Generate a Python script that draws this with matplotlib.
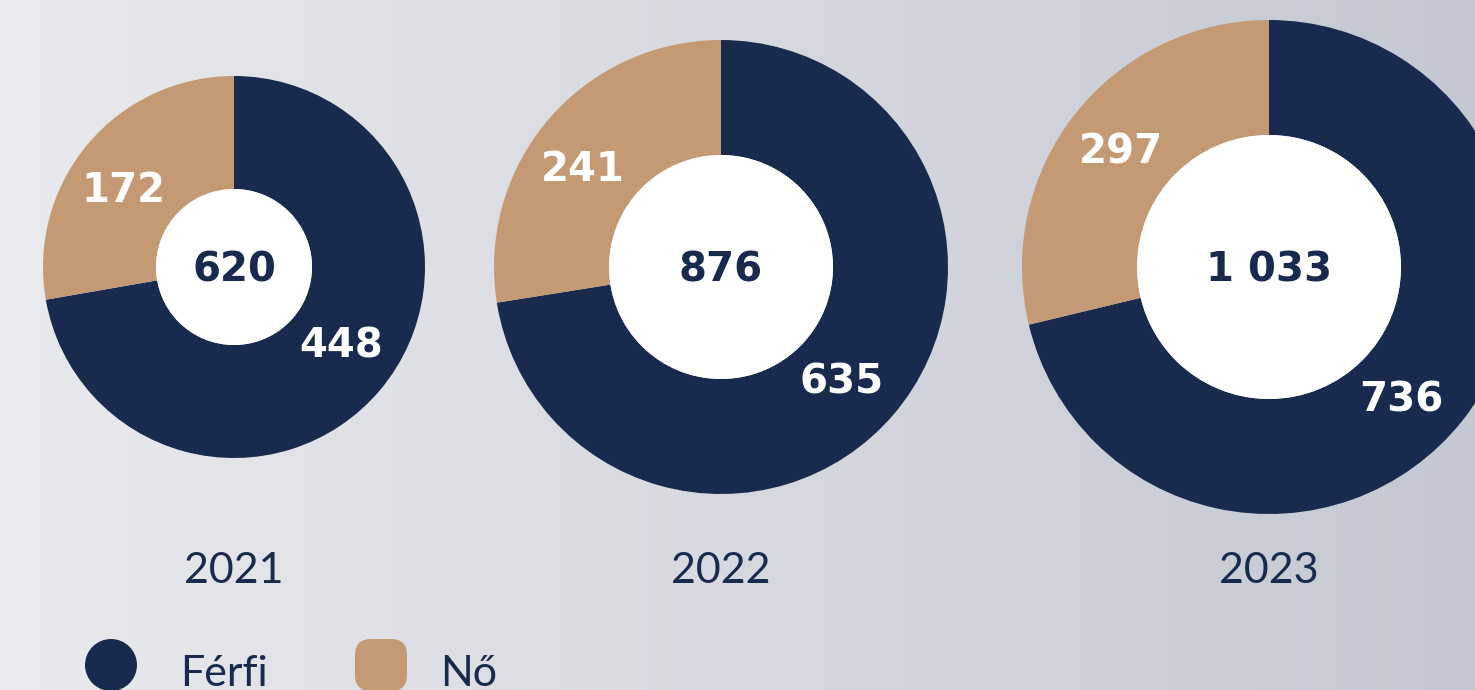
import matplotlib.pyplot as plt
import numpy as np
from matplotlib.patches import Circle, FancyBboxPatch

years = ['2021', '2022', '2023']
ferfi = [448, 635, 736]
no = [172, 241, 297]
totals = ['620', '876', '1 033']

navy = '#182a4e'
tan = '#c49a74'

W, H = 1475, 690
# layout in pixel coords (y measured from the top)
centers = [(234, 267), (721, 267), (1269, 267)]
outer = [191, 227, 247]
inner = [78, 112, 132]
no_lbl = [(124, 191), (583, 170), (1121, 153)]
ferfi_lbl = [(341, 346), (842, 382), (1401, 400)]

fig = plt.figure(figsize=(W / 100, H / 100), dpi=100)
ax = fig.add_axes([0, 0, 1, 1])

# background gradient
grad = np.linspace(0, 1, 256)[None, :, None]
left = np.array([233, 234, 237]) / 255
right = np.array([196, 200, 210]) / 255
img = left + (right - left) * grad
ax.imshow(img, extent=[0, W, 0, H], aspect='auto', zorder=0)

num_font = dict(fontsize=29, fontweight='bold', family='DejaVu Sans')
txt_font = dict(fontsize=31, family='Lato', fontweight='normal')

for i in range(3):
    cx, cy = centers[i]
    c = (cx, H - cy)
    ax.pie([ferfi[i], no[i]], colors=[navy, tan], startangle=90, counterclock=False,
           center=c, radius=outer[i], frame=True,
           wedgeprops=dict(width=outer[i] - inner[i], linewidth=0))
    ax.add_patch(Circle(c, inner[i], facecolor='white', edgecolor='none', zorder=3))
    ax.text(cx, H - cy - 3, totals[i], ha='center', va='center', color=navy, zorder=4, **num_font)
    ax.text(no_lbl[i][0], H - no_lbl[i][1], str(no[i]), ha='center', va='center',
            color='white', zorder=4, **num_font)
    ax.text(ferfi_lbl[i][0], H - ferfi_lbl[i][1], str(ferfi[i]), ha='center', va='center',
            color='white', zorder=4, **num_font)
    ax.text(cx, H - 571, years[i], ha='center', va='center', color=navy, **txt_font)

# legend
ax.add_patch(Circle((111, H - 665), 26, facecolor=navy, edgecolor='none', zorder=3))
ax.add_patch(FancyBboxPatch((361, H - 685), 40, 40, boxstyle='round,pad=6,rounding_size=16',
                            facecolor=tan, edgecolor='none', zorder=3))
ax.text(180, H - 674, 'Férfi', ha='left', va='center', color=navy, **txt_font)
ax.text(440, H - 674, 'Nő', ha='left', va='center', color=navy, **txt_font)

ax.set_xlim(0, W)
ax.set_ylim(0, H)
ax.set_aspect('auto')
ax.axis('off')

fig.savefig('out.png', dpi=100)
